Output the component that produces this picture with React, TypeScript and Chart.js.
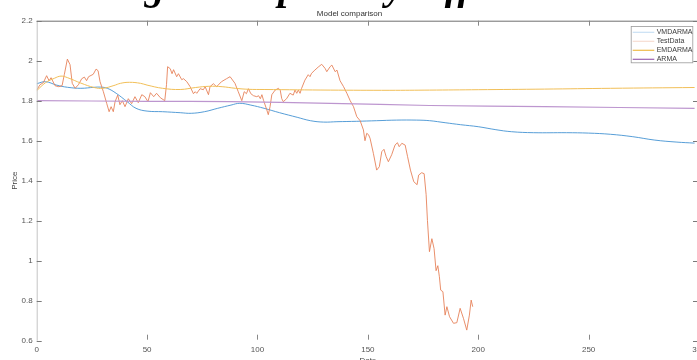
import React, { useEffect, useRef } from "react";
import { Chart, registerables } from "chart.js";
Chart.register(...registerables);

// ---------- data ----------
const testX = [0, 1.5, 3, 4.5, 5.6, 6.5, 8.3, 10, 11.5, 12.5, 13.9, 15.1, 16.1, 17.4, 18.9, 20.4, 21.6, 22.6, 23.5, 25.6, 26.9, 27.8, 28.7, 30.2, 31.7, 32.8, 33.7, 34.7, 35.5, 36.7, 37.7, 38.8, 40, 41.5, 43, 44.5, 46, 47.6, 49, 50.4, 51.5, 53, 54.3, 56, 58, 58.8, 59.3, 60.5, 61.3, 62, 63.4, 64.2, 65.7, 66.5, 68, 69.5, 71, 71.8, 72.5, 74, 75.5, 76.3, 77.8, 78.5, 80, 81.5, 83.7, 86, 87.6, 89.8, 91.3, 92.9, 94, 95, 95.9, 97, 98.2, 99.7, 100.5, 101.3, 102, 102.8, 104.2, 104.9, 105.7, 106.5, 108, 109.5, 110.3, 111, 111.7, 113.2, 114.7, 116.2, 117, 117.8, 118.5, 119.3, 120, 121.5, 123, 123.8, 124.5, 126, 127.5, 129.1, 130.6, 131.4, 132.9, 133.7, 135.2, 136, 137.4, 139, 140.5, 142, 143.5, 145, 146.5, 148, 148.7, 149.5, 150.3, 151, 152.5, 154, 155.2, 156.3, 157.3, 158.3, 159.3, 160.8, 162.3, 163.4, 164.2, 165.4, 166.9, 168, 169.3, 170.8, 172.3, 173, 174.4, 175.5, 176.4, 177, 177.9, 179, 180, 180.9, 181.7, 182.4, 183, 184, 185, 185.8, 187, 188.8, 190.3, 191.8, 193.3, 194.8, 196, 196.8, 197.5];
const testY = [1.853, 1.88, 1.89, 1.925, 1.9, 1.915, 1.875, 1.87, 1.875, 1.93, 2.008, 1.98, 1.887, 1.862, 1.88, 1.91, 1.918, 1.9, 1.92, 1.932, 1.958, 1.95, 1.895, 1.845, 1.787, 1.745, 1.77, 1.745, 1.795, 1.828, 1.78, 1.8, 1.77, 1.81, 1.785, 1.82, 1.79, 1.83, 1.82, 1.795, 1.84, 1.82, 1.837, 1.815, 1.8, 1.88, 1.97, 1.96, 1.935, 1.955, 1.92, 1.935, 1.905, 1.91, 1.895, 1.87, 1.835, 1.845, 1.837, 1.86, 1.855, 1.87, 1.83, 1.87, 1.885, 1.87, 1.895, 1.91, 1.92, 1.887, 1.845, 1.8, 1.845, 1.835, 1.86, 1.835, 1.825, 1.82, 1.825, 1.81, 1.83, 1.8, 1.755, 1.73, 1.77, 1.83, 1.853, 1.862, 1.853, 1.81, 1.795, 1.81, 1.837, 1.828, 1.853, 1.837, 1.853, 1.837, 1.862, 1.903, 1.93, 1.92, 1.937, 1.953, 1.968, 1.982, 1.962, 1.945, 1.97, 1.978, 1.945, 1.953, 1.9, 1.87, 1.837, 1.8, 1.77, 1.72, 1.7, 1.654, 1.6, 1.637, 1.63, 1.612, 1.537, 1.453, 1.47, 1.545, 1.557, 1.52, 1.495, 1.53, 1.578, 1.59, 1.57, 1.587, 1.578, 1.52, 1.453, 1.395, 1.38, 1.428, 1.44, 1.435, 1.33, 1.2, 1.045, 1.11, 1.06, 0.95, 0.975, 0.92, 0.853, 0.845, 0.728, 0.77, 0.72, 0.687, 0.69, 0.762, 0.712, 0.653, 0.728, 0.803, 0.77];

const vmdX = [0, 4, 9, 14, 20, 26, 29, 32, 36, 41, 45, 50, 57, 65, 70, 76, 82, 88, 92, 97, 103, 110, 118, 124, 130, 136, 145, 154, 163, 172, 178, 185, 192, 200, 208, 215, 225, 240, 250, 260, 270, 280, 290, 298];
const vmdY = [1.885, 1.895, 1.878, 1.867, 1.862, 1.867, 1.868, 1.862, 1.837, 1.795, 1.762, 1.748, 1.745, 1.74, 1.737, 1.745, 1.762, 1.778, 1.787, 1.778, 1.762, 1.74, 1.717, 1.7, 1.693, 1.695, 1.697, 1.7, 1.703, 1.703, 1.7, 1.69, 1.68, 1.67, 1.655, 1.645, 1.64, 1.64, 1.638, 1.632, 1.62, 1.603, 1.593, 1.588];

const emdX = [0, 4, 8, 11, 14, 20, 26, 30, 35, 38, 42, 47, 50, 57, 65, 72, 78, 84, 90, 96, 103, 133, 160, 178, 200, 230, 260, 298];
const emdY = [1.85, 1.89, 1.912, 1.923, 1.915, 1.888, 1.866, 1.862, 1.876, 1.887, 1.892, 1.887, 1.878, 1.862, 1.856, 1.866, 1.872, 1.87, 1.862, 1.857, 1.856, 1.853, 1.852, 1.853, 1.855, 1.858, 1.862, 1.866];

const armaX = [0, 50, 88, 133, 178, 230, 298];
const armaY = [1.8, 1.797, 1.795, 1.787, 1.776, 1.77, 1.762];

const seriesLabels = ["VMDARMA", "TestData", "EMDARMA", "ARMA"];
const xTickStep = 50;
const yTickStep = 0.2;

// ---------- styles ----------
const SANS = "'Liberation Sans', Arial, sans-serif";
const W = 720;
const H = 380;
const lineColors = ["#4493d3", "#e7825a", "#f1bf58", "#bd96cf"];
const legendColors = ["#c9e0f4", "#f7ddd2", "#efbc4a", "#9b62b0"];

const toPts = (xs: number[], ys: number[]) => xs.map((x, i) => ({ x, y: ys[i] }));

const axesPlugin = {
  id: "matlabAxes",
  afterDatasetsDraw(chart: any) {
    const { ctx, chartArea: a, scales } = chart;
    const xs = scales.x, ys = scales.y;
    ctx.save();
    ctx.lineWidth = 1;
    ctx.strokeStyle = "#6e6e6e";
    ctx.beginPath();
    ctx.moveTo(a.left, a.top + 0.5);
    ctx.lineTo(a.right, a.top + 0.5);
    ctx.stroke();
    ctx.strokeStyle = "#c4c4c4";
    ctx.beginPath();
    ctx.moveTo(a.left + 0.5, a.top);
    ctx.lineTo(a.left + 0.5, a.bottom);
    ctx.stroke();
    ctx.strokeStyle = "#8a8a8a";
    ctx.beginPath();
    ctx.moveTo(a.right - 0.5, a.top);
    ctx.lineTo(a.right - 0.5, a.bottom);
    ctx.stroke();
    ctx.strokeStyle = "#7a7a7a";
    ys.ticks.forEach((t: any) => {
      const py = Math.round(ys.getPixelForValue(t.value)) + 0.5;
      ctx.beginPath();
      ctx.moveTo(a.left, py);
      ctx.lineTo(a.left + 5, py);
      ctx.moveTo(a.right - 6, py);
      ctx.lineTo(a.right, py);
      ctx.stroke();
    });
    ctx.strokeStyle = "#888";
    xs.ticks.forEach((t: any) => {
      if (t.value <= xs.min || t.value >= xs.max) return;
      const px = Math.round(xs.getPixelForValue(t.value)) + 0.5;
      ctx.beginPath();
      ctx.moveTo(px, a.top);
      ctx.lineTo(px, a.top + 5);
      ctx.moveTo(px, a.bottom - 6);
      ctx.lineTo(px, a.bottom - 1);
      ctx.stroke();
    });
    ctx.restore();
  },
};

const legendPlugin = {
  id: "matlabLegend",
  afterDraw(chart: any) {
    const { ctx, chartArea: a } = chart;
    const right = a.right - 5.7;
    const left = right - 62.6;
    const top = 26;
    const h = 37.3;
    ctx.save();
    ctx.fillStyle = "#ffffff";
    ctx.fillRect(left, top, right - left, h);
    ctx.strokeStyle = "#9a9a9a";
    ctx.lineWidth = 0.8;
    ctx.strokeRect(left + 0.5, top + 0.5, right - left - 1, h - 1);
    ctx.font = `7px ${SANS}`;
    ctx.textBaseline = "middle";
    ctx.textAlign = "left";
    chart.data.datasets.forEach((ds: any, i: number) => {
      const y = top + 6.3 + i * 9;
      ctx.strokeStyle = legendColors[i];
      ctx.lineWidth = 1.2;
      ctx.beginPath();
      ctx.moveTo(left + 2, y);
      ctx.lineTo(left + 23.6, y);
      ctx.stroke();
      ctx.fillStyle = "#3a3a3a";
      ctx.fillText(ds.label, left + 26, y);
    });
    ctx.restore();
  },
};

export default function App() {
  const ref = useRef<HTMLCanvasElement>(null);
  useEffect(() => {
    const tickFont = { family: SANS, size: 8 };
    const chart = new Chart(ref.current as HTMLCanvasElement, {
      type: "line",
      data: {
        datasets: [
          { label: seriesLabels[0], data: toPts(vmdX, vmdY), borderColor: lineColors[0], borderWidth: 0.9, pointRadius: 0, tension: 0.4, order: 3 },
          { label: seriesLabels[1], data: toPts(testX, testY), borderColor: lineColors[1], borderWidth: 0.9, pointRadius: 0, tension: 0, order: 2 },
          { label: seriesLabels[2], data: toPts(emdX, emdY), borderColor: lineColors[2], borderWidth: 1, pointRadius: 0, tension: 0.4, order: 1 },
          { label: seriesLabels[3], data: toPts(armaX, armaY), borderColor: lineColors[3], borderWidth: 1.2, pointRadius: 0, tension: 0.4, order: 0 },
        ],
      } as any,
      options: {
        responsive: false,
        maintainAspectRatio: false,
        animation: false,
        devicePixelRatio: 1,
        layout: { padding: { left: 0, top: 0, right: W - 699, bottom: 0 } },
        plugins: {
          legend: { display: false },
          tooltip: { enabled: false },
          title: {
            display: true,
            text: "Model comparison",
            color: "#333",
            font: { family: SANS, size: 8, weight: "normal" },
            padding: { top: 9.2, bottom: 1.9 },
          },
        },
        scales: {
          x: {
            type: "linear",
            min: 0,
            max: 300,
            grid: { display: false, drawTicks: false },
            border: { display: false },
            ticks: { stepSize: xTickStep, autoSkip: false, maxRotation: 0, padding: 4, color: "#555", font: tickFont },
            title: { display: true, text: "Date", color: "#444", font: tickFont, padding: { top: 0, bottom: 14.2 } },
            afterFit: (s: any) => { s.height = H - 340.7; },
          },
          y: {
            type: "linear",
            min: 0.6,
            max: 2.2,
            grid: { display: false, drawTicks: false },
            border: { display: false },
            ticks: {
              stepSize: yTickStep,
              autoSkip: false,
              padding: 4,
              color: "#555",
              font: tickFont,
              callback: (v: any) => String(Math.round(Number(v) * 10) / 10),
            },
            title: { display: true, text: "Price", color: "#444", font: tickFont, padding: { top: 10.2, bottom: 0 } },
            afterFit: (s: any) => { s.width = 36.7; },
          },
        },
      } as any,
      plugins: [axesPlugin, legendPlugin],
    });
    return () => chart.destroy();
  }, []);

  return (
    <div style={{ position: "fixed", left: 0, top: 0, width: 697, height: 360, overflow: "hidden", background: "#fff" }}>
      <canvas ref={ref} width={W} height={H} style={{ position: "absolute", left: 0, top: 0, width: W, height: H }} />
      <div
        style={{
          position: "absolute",
          left: -33,
          top: -34,
          font: "bold italic 40px 'Liberation Serif', 'Times New Roman', serif",
          lineHeight: "40px",
          whiteSpace: "nowrap",
          color: "#000",
        }}
      >
        Forecasting result plots by different models
      </div>
    </div>
  );
}
